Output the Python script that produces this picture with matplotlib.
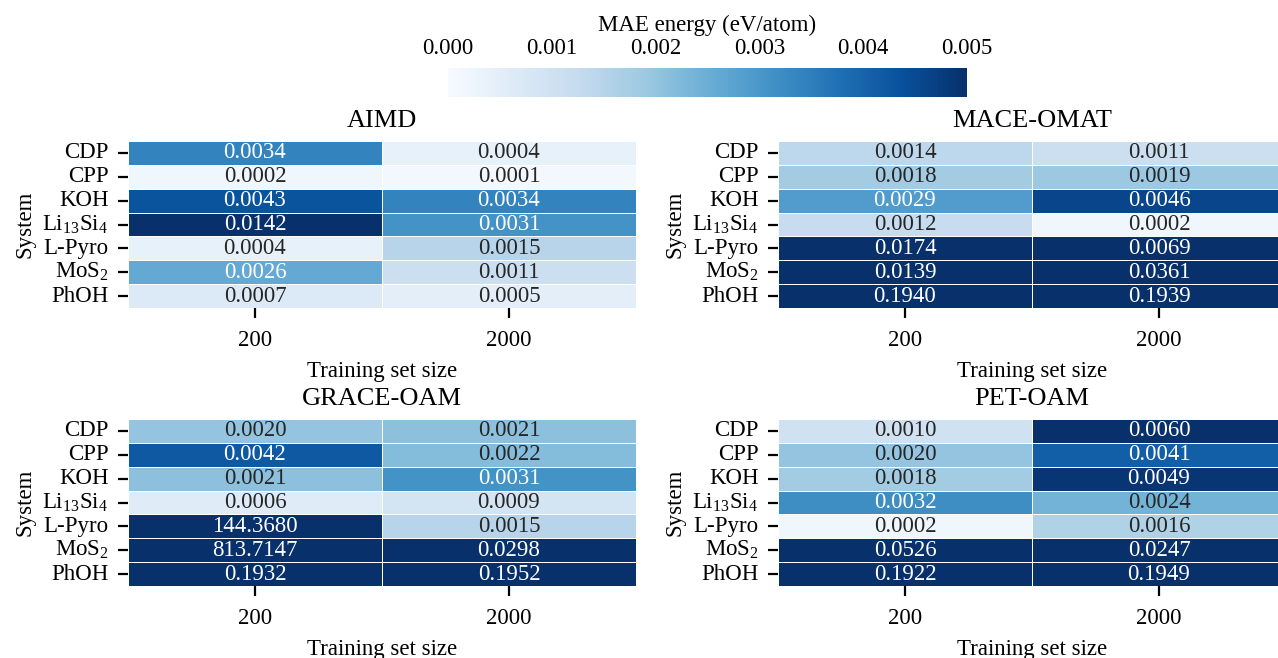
import numpy as np
import pandas as pd
import matplotlib
matplotlib.use("Agg")
import matplotlib.pyplot as plt
import seaborn as sns
from matplotlib.cm import ScalarMappable
from matplotlib.colors import Normalize

systems = ["CDP", "CPP", "KOH", "Li$_{13}$Si$_4$", "L-Pyro", "MoS$_2$", "PhOH"]
sizes = ["200", "2000"]

aimd_200 = [0.0034, 0.0002, 0.0043, 0.0142, 0.0004, 0.0026, 0.0007]
aimd_2000 = [0.0004, 0.0001, 0.0034, 0.0031, 0.0015, 0.0011, 0.0005]
mace_200 = [0.0014, 0.0018, 0.0029, 0.0012, 0.0174, 0.0139, 0.1940]
mace_2000 = [0.0011, 0.0019, 0.0046, 0.0002, 0.0069, 0.0361, 0.1939]
grace_200 = [0.0020, 0.0042, 0.0021, 0.0006, 144.3680, 813.7147, 0.1932]
grace_2000 = [0.0021, 0.0022, 0.0031, 0.0009, 0.0015, 0.0298, 0.1952]
pet_200 = [0.0010, 0.0020, 0.0018, 0.0032, 0.0002, 0.0526, 0.1922]
pet_2000 = [0.0060, 0.0041, 0.0049, 0.0024, 0.0016, 0.0247, 0.1949]

titles = ["AIMD", "MACE-OMAT", "GRACE-OAM", "PET-OAM"]
panels = [(aimd_200, aimd_2000), (mace_200, mace_2000),
          (grace_200, grace_2000), (pet_200, pet_2000)]

FS = 16.5

sns.set_theme(style="ticks")
plt.rcParams["font.family"] = ["Liberation Serif", "DejaVu Serif"]
plt.rcParams["mathtext.default"] = "regular"
plt.rcParams["mathtext.fontset"] = "custom"
plt.rcParams["mathtext.rm"] = "Liberation Serif"
plt.rcParams["mathtext.it"] = "Liberation Serif:italic"
plt.rcParams["text.color"] = "black"
plt.rcParams["axes.labelcolor"] = "black"
plt.rcParams["xtick.color"] = "black"
plt.rcParams["ytick.color"] = "black"
plt.rcParams["xtick.bottom"] = True
plt.rcParams["ytick.left"] = True
plt.rcParams["xtick.direction"] = "out"
plt.rcParams["ytick.direction"] = "out"
plt.rcParams["xtick.major.size"] = 7
plt.rcParams["ytick.major.size"] = 7
plt.rcParams["xtick.major.width"] = 1.6
plt.rcParams["ytick.major.width"] = 1.6
plt.rcParams["xtick.major.pad"] = 9
plt.rcParams["ytick.major.pad"] = 7
plt.rcParams["xtick.labelsize"] = FS
plt.rcParams["ytick.labelsize"] = FS

W, H = 1278, 658
fig = plt.figure(figsize=(W / 100, H / 100), dpi=100)

vmin, vmax = 0.0, 0.005
cmap = "Blues"

# axes positions in pixels: left, top, width, height
pos = [(128, 141, 508, 167), (778, 141, 508, 167),
       (128, 419, 508, 167), (778, 419, 508, 167)]

for (left, top, w, h), title, (c200, c2000) in zip(pos, titles, panels):
    ax = fig.add_axes([left / W, 1 - (top + h) / H, w / W, h / H])
    df = pd.DataFrame({sizes[0]: c200, sizes[1]: c2000}, index=systems)
    sns.heatmap(df, ax=ax, annot=True, fmt=".4f", cmap=cmap, vmin=vmin, vmax=vmax,
                linewidths=0.7, linecolor="white", cbar=False,
                xticklabels=sizes, yticklabels=systems,
                annot_kws={"fontsize": FS})
    ax.set_title(title, fontsize=19, pad=10)
    ax.set_xlabel("Training set size", fontsize=FS, labelpad=7)
    ax.set_ylabel("System", fontsize=FS, labelpad=5)
    plt.setp(ax.get_yticklabels(), rotation=0)
    plt.setp(ax.get_xticklabels(), rotation=0)
    for t in ax.xaxis.get_major_ticks():
        t.tick1line.set_visible(True)
        t.tick1line.set_zorder(5)

cax = fig.add_axes([448 / W, 1 - 97 / H, 519 / W, 29 / H])
sm = ScalarMappable(norm=Normalize(vmin=vmin, vmax=vmax), cmap=cmap)
cb = fig.colorbar(sm, cax=cax, orientation="horizontal")
cb.outline.set_visible(False)
cax.xaxis.set_ticks_position("top")
cax.xaxis.set_label_position("top")
cb.set_ticks([0.000, 0.001, 0.002, 0.003, 0.004, 0.005])
cb.set_ticklabels(["0.000", "0.001", "0.002", "0.003", "0.004", "0.005"])
cax.tick_params(axis="x", labelsize=FS, length=0, pad=6.5)
cb.set_label("MAE energy (eV/atom)", fontsize=FS, labelpad=5)

fig.savefig("out.png", dpi=100)
